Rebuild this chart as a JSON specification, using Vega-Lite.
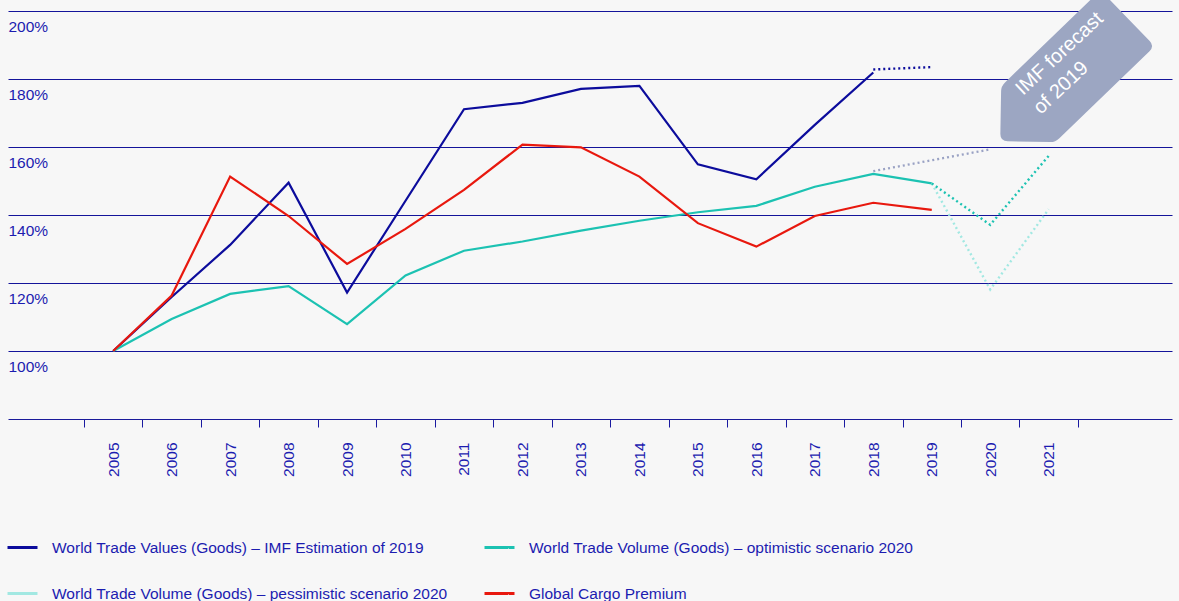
{
  "$schema": "https://vega.github.io/schema/vega-lite/v6.json",
  "autosize": {"type": "none"},
  "width": 1164,
  "height": 408,
  "padding": {"left": 8, "top": 11, "right": 7, "bottom": 182},
  "background": "#f7f7f7",
  "config": {"view": {"stroke": null}, "font": "Liberation Sans"},
  "datasets": {
    "actual": [
      {"year": 2005, "value": 100, "series": "World Trade Values (Goods) – IMF Estimation of 2019"},
      {"year": 2006, "value": 115.9, "series": "World Trade Values (Goods) – IMF Estimation of 2019"},
      {"year": 2007, "value": 131.2, "series": "World Trade Values (Goods) – IMF Estimation of 2019"},
      {"year": 2008, "value": 149.5, "series": "World Trade Values (Goods) – IMF Estimation of 2019"},
      {"year": 2009, "value": 117.2, "series": "World Trade Values (Goods) – IMF Estimation of 2019"},
      {"year": 2010, "value": 144.2, "series": "World Trade Values (Goods) – IMF Estimation of 2019"},
      {"year": 2011, "value": 171.1, "series": "World Trade Values (Goods) – IMF Estimation of 2019"},
      {"year": 2012, "value": 173.0, "series": "World Trade Values (Goods) – IMF Estimation of 2019"},
      {"year": 2013, "value": 177.1, "series": "World Trade Values (Goods) – IMF Estimation of 2019"},
      {"year": 2014, "value": 178.0, "series": "World Trade Values (Goods) – IMF Estimation of 2019"},
      {"year": 2015, "value": 154.9, "series": "World Trade Values (Goods) – IMF Estimation of 2019"},
      {"year": 2016, "value": 150.5, "series": "World Trade Values (Goods) – IMF Estimation of 2019"},
      {"year": 2017, "value": 166.5, "series": "World Trade Values (Goods) – IMF Estimation of 2019"},
      {"year": 2018, "value": 181.9, "series": "World Trade Values (Goods) – IMF Estimation of 2019"},
      {"year": 2005, "value": 100, "series": "World Trade Volume (Goods) – optimistic scenario 2020"},
      {"year": 2006, "value": 109.4, "series": "World Trade Volume (Goods) – optimistic scenario 2020"},
      {"year": 2007, "value": 116.8, "series": "World Trade Volume (Goods) – optimistic scenario 2020"},
      {"year": 2008, "value": 119.1, "series": "World Trade Volume (Goods) – optimistic scenario 2020"},
      {"year": 2009, "value": 107.9, "series": "World Trade Volume (Goods) – optimistic scenario 2020"},
      {"year": 2010, "value": 122.2, "series": "World Trade Volume (Goods) – optimistic scenario 2020"},
      {"year": 2011, "value": 129.5, "series": "World Trade Volume (Goods) – optimistic scenario 2020"},
      {"year": 2012, "value": 132.2, "series": "World Trade Volume (Goods) – optimistic scenario 2020"},
      {"year": 2013, "value": 135.4, "series": "World Trade Volume (Goods) – optimistic scenario 2020"},
      {"year": 2014, "value": 138.3, "series": "World Trade Volume (Goods) – optimistic scenario 2020"},
      {"year": 2015, "value": 140.8, "series": "World Trade Volume (Goods) – optimistic scenario 2020"},
      {"year": 2016, "value": 142.7, "series": "World Trade Volume (Goods) – optimistic scenario 2020"},
      {"year": 2017, "value": 148.3, "series": "World Trade Volume (Goods) – optimistic scenario 2020"},
      {"year": 2018, "value": 152.1, "series": "World Trade Volume (Goods) – optimistic scenario 2020"},
      {"year": 2019, "value": 149.3, "series": "World Trade Volume (Goods) – optimistic scenario 2020"},
      {"year": 2005, "value": 100, "series": "Global Cargo Premium"},
      {"year": 2006, "value": 116.3, "series": "Global Cargo Premium"},
      {"year": 2007, "value": 151.3, "series": "Global Cargo Premium"},
      {"year": 2008, "value": 139.7, "series": "Global Cargo Premium"},
      {"year": 2009, "value": 125.6, "series": "Global Cargo Premium"},
      {"year": 2010, "value": 135.9, "series": "Global Cargo Premium"},
      {"year": 2011, "value": 147.4, "series": "Global Cargo Premium"},
      {"year": 2012, "value": 160.7, "series": "Global Cargo Premium"},
      {"year": 2013, "value": 159.9, "series": "Global Cargo Premium"},
      {"year": 2014, "value": 151.3, "series": "Global Cargo Premium"},
      {"year": 2015, "value": 137.6, "series": "Global Cargo Premium"},
      {"year": 2016, "value": 130.7, "series": "Global Cargo Premium"},
      {"year": 2017, "value": 139.7, "series": "Global Cargo Premium"},
      {"year": 2018, "value": 143.6, "series": "Global Cargo Premium"},
      {"year": 2019, "value": 141.5, "series": "Global Cargo Premium"}
    ],
    "forecast": [
      {"year": 2018, "value": 182.8, "series": "World Trade Values (Goods) – IMF Estimation of 2019"},
      {"year": 2019, "value": 183.5, "series": "World Trade Values (Goods) – IMF Estimation of 2019"},
      {"year": 2019, "value": 149.3, "series": "World Trade Volume (Goods) – pessimistic scenario 2020"},
      {"year": 2020, "value": 118.1, "series": "World Trade Volume (Goods) – pessimistic scenario 2020"},
      {"year": 2021, "value": 141.7, "series": "World Trade Volume (Goods) – pessimistic scenario 2020"},
      {"year": 2019, "value": 149.3, "series": "World Trade Volume (Goods) – optimistic scenario 2020"},
      {"year": 2020, "value": 137.1, "series": "World Trade Volume (Goods) – optimistic scenario 2020"},
      {"year": 2021, "value": 157.4, "series": "World Trade Volume (Goods) – optimistic scenario 2020"}
    ],
    "imf": [
      {"year": 2018, "value": 152.9},
      {"year": 2020, "value": 159.3}
    ],
    "tag": [
      {"year": 2021.26, "value": 179.8}
    ],
    "tagText": [
      {"year": 2020.56, "value": 175.0, "label": "IMF forecast\nof 2019"}
    ]
  },
  "encoding": {
    "x": {
      "field": "year",
      "type": "quantitative",
      "scale": {"domain": [2003.201, 2023.109], "nice": false, "zero": false},
      "axis": {
        "title": null,
        "values": [2004.5, 2005, 2005.5, 2006, 2006.5, 2007, 2007.5, 2008, 2008.5, 2009, 2009.5, 2010, 2010.5, 2011, 2011.5, 2012, 2012.5, 2013, 2013.5, 2014, 2014.5, 2015, 2015.5, 2016, 2016.5, 2017, 2017.5, 2018, 2018.5, 2019, 2019.5, 2020, 2020.5, 2021, 2021.5],
        "labelExpr": "datum.value % 1 === 0 ? '' + datum.value : ''",
        "labelAngle": 270,
        "labelAlign": "right",
        "labelBaseline": "middle",
        "labelPadding": 15,
        "labelOverlap": false,
        "labelFlush": false,
        "labelFontSize": 15.5,
        "labelColor": "#1c1cb0",
        "tickSize": 8,
        "tickColor": "#1a1aa0",
        "tickWidth": 1,
        "tickOpacity": {"condition": {"test": "datum.value % 1 === 0", "value": 0}, "value": 1},
        "domainColor": "#1a1a9a",
        "domainWidth": 1,
        "grid": false
      }
    },
    "y": {
      "field": "value",
      "type": "quantitative",
      "scale": {"domain": [80, 200], "nice": false, "zero": false},
      "axis": {
        "title": null,
        "values": [100, 120, 140, 160, 180, 200],
        "labelExpr": "datum.value + '%'",
        "domain": false,
        "ticks": false,
        "grid": true,
        "gridColor": "#14149a",
        "gridWidth": 1,
        "labelAlign": "left",
        "labelBaseline": "middle",
        "labelPadding": 0,
        "labelOffset": 15.7,
        "labelFontSize": 15.5,
        "labelColor": "#1c1cb0"
      }
    }
  },
  "layer": [
    {
      "data": {"name": "imf"},
      "mark": {"type": "line", "stroke": "#9aa2c4", "strokeWidth": 2.3, "strokeDash": [2, 3]},
      "encoding": {}
    },
    {
      "data": {"name": "actual"},
      "mark": {"type": "line", "strokeWidth": 2.2},
      "encoding": {
        "color": {
          "field": "series",
          "type": "nominal",
          "scale": {
            "domain": ["World Trade Values (Goods) – IMF Estimation of 2019", "World Trade Volume (Goods) – pessimistic scenario 2020", "World Trade Volume (Goods) – optimistic scenario 2020", "Global Cargo Premium"],
            "range": ["#0c0c9c", "#a2e8e2", "#1cc2b2", "#e8180e"]
          },
          "legend": {
            "title": null,
            "orient": "none",
            "legendX": -2,
            "legendY": 520,
            "columns": 2,
            "gridAlign": "each",
            "columnPadding": 30,
            "rowPadding": 21,
            "symbolType": "stroke",
            "symbolSize": 900,
            "symbolStrokeWidth": 3,
            "symbolDash": [1, 0],
            "labelFontSize": 15.5,
            "labelColor": "#1c1cb0",
            "labelOffset": 13,
            "labelLimit": 0
          }
        }
      }
    },
    {
      "data": {"name": "forecast"},
      "mark": {"type": "line", "strokeWidth": 2.4, "strokeDash": [2, 3]},
      "encoding": {
        "color": {"field": "series", "type": "nominal"}
      }
    },
    {
      "data": {"name": "tag"},
      "mark": {
        "type": "point",
        "shape": "M-0.94,-0.06 L-0.6,-0.4 Q-0.56,-0.44 -0.5,-0.44 L0.92,-0.44 Q1,-0.44 1,-0.36 L1,0.36 Q1,0.44 0.92,0.44 L-0.5,0.44 Q-0.56,0.44 -0.6,0.4 L-0.94,0.06 Q-1,0 -0.94,-0.06 Z",
        "size": 31329,
        "angle": 316,
        "filled": true,
        "fill": "#9ca6c2",
        "stroke": null,
        "opacity": 1
      }
    },
    {
      "data": {"name": "tagText"},
      "mark": {
        "type": "text",
        "angle": 317,
        "align": "left",
        "baseline": "alphabetic",
        "lineBreak": "\n",
        "lineHeight": 26,
        "fontSize": 20,
        "color": "#ffffff"
      },
      "encoding": {"text": {"field": "label"}}
    }
  ]
}
